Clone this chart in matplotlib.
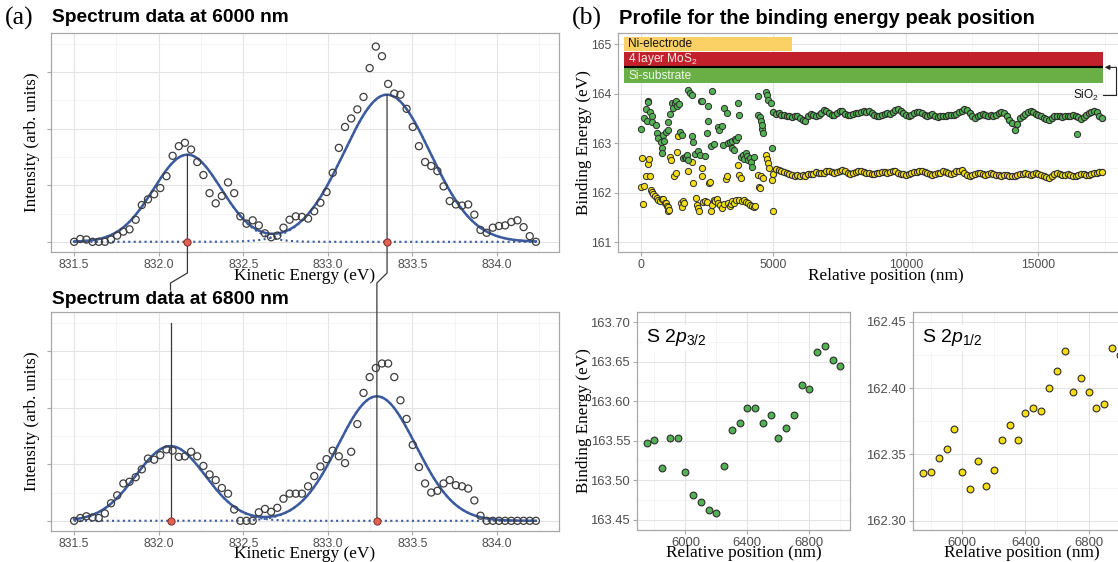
import numpy as np
import matplotlib
matplotlib.use('Agg')
import matplotlib.pyplot as plt
from matplotlib.lines import Line2D
from matplotlib.ticker import MultipleLocator, FixedLocator

plt.rcParams['font.family'] = ['Liberation Sans', 'DejaVu Sans']
plt.rcParams['mathtext.fontset'] = 'custom'
plt.rcParams['mathtext.rm'] = 'Liberation Sans'
plt.rcParams['mathtext.it'] = 'Liberation Sans:italic'

# ---------------- data: panel (a) ----------------
energy_first = 831.5
energy_last = 834.23
n_energy = 76
intensity_6000 = [0, 0.05, 0.04, 0, 0, 0, 0.04, 0.11, 0.18, 0.22,
                  0.39, 0.65, 0.75, 0.84, 0.95, 1.16, 1.52, 1.69, 1.75, 1.63,
                  1.41, 1.18, 0.86, 0.68, 0.81, 1.05, 0.86, 0.45, 0.32, 0.38,
                  0.29, 0.15, 0.08, 0.11, 0.25, 0.39, 0.45,
                  0.44, 0.41, 0.54, 0.69, 0.88, 1.22, 1.66, 2.03, 2.18, 2.34,
                  2.56, 3.07, 3.45, 3.28, 2.79, 2.62, 2.60, 2.35, 2.03, 1.69,
                  1.41, 1.34, 1.25, 0.98, 0.72, 0.66, 0.64, 0.66, 0.48, 0.21,
                  0.16, 0.25, 0.28, 0.29, 0.35, 0.38, 0.26, 0.10, 0]
intensity_6800 = [0, 0.05, 0.08, 0.06, 0.05, 0.13, 0.31, 0.45, 0.66, 0.69,
                  0.77, 0.91, 1.10, 1.08, 1.16, 1.26, 1.24, 1.13, 1.14, 1.22,
                  1.14, 0.97, 0.82, 0.72, 0.58, 0.48, 0.20, 0, 0, 0,
                  0.15, 0.21, 0.16, 0.23, 0.39, 0.48, 0.48,
                  0.48, 0.61, 0.79, 0.96, 1.09, 1.24, 1.14, 1.02, 1.22, 1.71,
                  2.26, 2.54, 2.70, 2.78, 2.78, 2.54, 2.13, 1.80, 1.34, 0.95,
                  0.66, 0.50, 0.53, 0.66, 0.72, 0.63, 0.61, 0.57, 0.36, 0.09,
                  0, 0, 0, 0, 0, 0, 0, 0, 0]
# Gaussian fit parameters (centre, height, sigma)
fit_centers_6000 = [832.17, 833.35]
fit_heights_6000 = [1.54, 2.60]
fit_sigmas_6000 = [0.20, 0.255]
fit_centers_6800 = [832.07, 833.29]
fit_heights_6800 = [1.32, 2.20]
fit_sigmas_6800 = [0.205, 0.23]
energy_ticks = [831.5, 832.0, 832.5, 833.0, 833.5, 834.0]

# ---------------- data: panel (b) ----------------
green_scatter_x = [0, 126, 190, 215, 250, 280, 340, 400, 420, 554,
                   590, 654, 754, 780, 805, 843, 880, 931, 1006, 1031,
                   1107, 1157, 1195, 1283, 1308, 1346, 1434, 1472, 1535, 1598,
                   1650, 1700, 1720, 1761, 1780, 1850, 1912, 1930, 1975, 2038,
                   2163, 2226, 2264, 2300, 2415, 2490, 2516, 2541, 2642, 2667,
                   2766, 2894, 2943, 3044, 3107, 3145, 3233, 3271, 3358, 3422,
                   3450, 3522, 3550, 3600, 3648, 3660, 3698, 3774, 3862, 3900,
                   3950, 4000, 4050, 4100, 4150, 4200, 4250, 4403, 4426, 4490,
                   4528, 4553, 4578, 4616, 4705, 4742, 4805, 4906, 4931, 16440]
green_scatter_y = [163.29, 163.51, 163.69, 163.46, 163.86, 163.84, 163.64, 163.56, 163.42, 163.37,
                   163.21, 163.10, 163.03, 162.90, 162.80, 163.17, 163.05, 163.23, 163.42, 163.27,
                   163.59, 163.81, 163.71, 163.82, 163.85, 163.75, 163.79, 163.23, 163.17, 162.70,
                   162.72, 162.70, 162.76, 164.08, 162.67, 164.02, 163.97, 163.15, 163.03, 162.78,
                   162.84, 162.76, 163.85, 163.86, 162.74, 163.20, 163.44, 163.75, 162.95, 164.06,
                   162.99, 163.33, 163.27, 163.35, 162.97, 163.71, 163.61, 163.01, 163.03, 162.90,
                   163.04, 162.87, 163.08, 163.06, 163.81, 163.12, 163.57, 162.72, 162.76, 162.69,
                   162.81, 162.75, 162.66, 162.70, 162.62, 162.52, 162.73, 163.57, 163.96, 163.53,
                   163.44, 163.28, 163.37, 163.20, 164.04, 163.98, 163.87, 163.81, 162.90, 163.18]
yellow_scatter_x = [0, 50, 60, 126, 176, 252, 302, 340, 377, 420,
                    465, 530, 590, 650, 717, 780, 843, 900, 931, 970,
                    1006, 1031, 1060, 1094, 1132, 1258, 1308, 1371, 1409, 1520,
                    1560, 1600, 1635, 1761, 1912, 1975, 2063, 2100, 2138, 2200,
                    2290, 2314, 2350, 2400, 2480, 2566, 2600, 2642, 2692, 2740,
                    2800, 2855, 2918, 2980, 3069, 3120, 3195, 3245, 3300, 3360,
                    3400, 3450, 3520, 3580, 3648, 3698, 3700, 3774, 3800, 3870,
                    3950, 4030, 4100, 4180, 4260, 4300, 4403, 4453, 4480, 4528,
                    4600, 4717, 4742, 4805, 4843, 4950, 4969]
yellow_scatter_y = [162.12, 162.70, 161.77, 162.14, 162.33, 162.58, 162.68, 162.34, 162.06, 162.02,
                    161.98, 161.93, 161.89, 161.86, 161.84, 161.88, 161.87, 161.80, 161.79, 161.74,
                    161.72, 161.63, 161.65, 162.72, 162.66, 162.33, 162.39, 162.83, 163.15, 161.80,
                    161.72, 161.84, 161.79, 162.43, 162.63, 162.19, 161.89, 161.75, 161.69, 161.62,
                    162.49, 162.33, 161.82, 161.84, 161.82, 162.19, 162.21, 161.63, 161.75, 161.86,
                    161.84, 161.87, 161.79, 161.76, 161.69, 161.78, 162.28, 162.33, 161.80, 161.74,
                    161.78, 161.83, 161.80, 161.86, 162.56, 162.36, 161.85, 162.29, 161.84, 161.85,
                    161.81, 161.79, 161.76, 161.74, 161.72, 161.73, 162.36, 162.11, 162.09, 162.33,
                    162.30, 162.76, 162.68, 162.60, 162.49, 162.26, 161.62]
# uniform scan (100 nm steps) from 5000 nm to 17400 nm
scan_first = 5000
scan_step = 100
green_scan = [163.63, 163.60, 163.62, 163.58, 163.57, 163.55, 163.56, 163.54, 163.55, 163.55,
              163.51, 163.47, 163.46, 163.56, 163.59, 163.57, 163.55, 163.58, 163.62, 163.67,
              163.65, 163.62, 163.58, 163.57, 163.62, 163.66, 163.65, 163.60, 163.57, 163.58,
              163.60, 163.62, 163.61, 163.63, 163.65, 163.64, 163.65, 163.61, 163.57, 163.55,
              163.56, 163.58, 163.60, 163.62, 163.60, 163.63, 163.67, 163.69, 163.66, 163.61,
              163.58, 163.56, 163.58, 163.61, 163.63, 163.63, 163.61, 163.58, 163.56, 163.57,
              163.60, 163.56, 163.54, 163.55, 163.56, 163.55, 163.57, 163.58, 163.57, 163.60,
              163.63, 163.66, 163.70, 163.68, 163.62, 163.56, 163.52, 163.55, 163.58, 163.59,
              163.57, 163.56, 163.57, 163.56, 163.58, 163.62, 163.64, 163.62, 163.55, 163.47,
              163.40, 163.27, 163.38, 163.51, 163.56, 163.60, 163.64, 163.66, 163.64, 163.60,
              163.58, 163.56, 163.52, 163.49, 163.47, 163.51, 163.55, 163.56, 163.55, 163.54,
              163.55, 163.56, 163.56, 163.57, 163.55, 163.53, 163.50, 163.54, 163.57, 163.62,
              163.64, 163.66, 163.63, 163.56, 163.52]
yellow_scan = [162.38, 162.47, 162.45, 162.44, 162.42, 162.40, 162.38, 162.35, 162.34, 162.35,
               162.34, 162.35, 162.34, 162.37, 162.38, 162.38, 162.41, 162.40, 162.40, 162.39,
               162.43, 162.43, 162.41, 162.40, 162.42, 162.44, 162.45, 162.43, 162.40, 162.38,
               162.39, 162.41, 162.43, 162.44, 162.42, 162.40, 162.39, 162.38, 162.37, 162.39,
               162.40, 162.42, 162.41, 162.39, 162.42, 162.44, 162.43, 162.40, 162.38, 162.37,
               162.36, 162.38, 162.40, 162.41, 162.42, 162.44, 162.43, 162.41, 162.39, 162.37,
               162.36, 162.37, 162.39, 162.40, 162.43, 162.42, 162.39, 162.37, 162.40, 162.43,
               162.44, 162.45, 162.40, 162.36, 162.34, 162.36, 162.38, 162.39, 162.40, 162.38,
               162.36, 162.37, 162.39, 162.37, 162.35, 162.35, 162.34, 162.35, 162.36, 162.34,
               162.33, 162.34, 162.36, 162.37, 162.38, 162.39, 162.37, 162.36, 162.38, 162.40,
               162.38, 162.36, 162.34, 162.32, 162.30, 162.33, 162.37, 162.39, 162.37, 162.36,
               162.35, 162.37, 162.36, 162.34, 162.33, 162.35, 162.37, 162.38, 162.36, 162.35,
               162.37, 162.39, 162.40, 162.41, 162.41]
layer_names = ['Ni-electrode', '4 layer MoS$_2$', 'Si-substrate']
layer_colors = ['#fbd166', '#c2212b', '#6aaf45']
layer_text_colors = ['#111111', '#f6e9e9', '#f2f7ee']
layer_start = -640
layer_end = [5700, 17450, 17450]
layer_bottom = [164.87, 164.55, 164.21]
layer_top = [165.14, 164.85, 164.52]
sio2_level = 164.535

# ---------------- data: zoomed panels ----------------
zoom_x = [5750, 5800, 5850, 5900, 5950, 6000, 6050, 6100, 6150, 6200,
          6250, 6300, 6350, 6400, 6450, 6500, 6550, 6600, 6650, 6700,
          6750, 6800, 6850, 6900, 6950, 7000]
s2p32 = [163.547, 163.551, 163.515, 163.554, 163.554, 163.511, 163.481, 163.472, 163.462, 163.459,
         163.518, 163.563, 163.573, 163.591, 163.591, 163.572, 163.582, 163.554, 163.566, 163.582,
         163.621, 163.615, 163.662, 163.670, 163.652, 163.645]
s2p12 = [162.336, 162.337, 162.347, 162.354, 162.369, 162.337, 162.324, 162.345, 162.326, 162.338,
         162.361, 162.372, 162.361, 162.381, 162.385, 162.383, 162.400, 162.413, 162.428, 162.397,
         162.408, 162.397, 162.385, 162.388, 162.430, 162.425]

# ---------------- figure ----------------
W, H = 1118, 562
fig = plt.figure(figsize=(W / 100, H / 100), dpi=100)


def box(l, t, r, b):
    return [l / W, 1 - b / H, (r - l) / W, (b - t) / H]


GRID = '#e4e4e4'
BORDER = '#a8a8a8'
TICKC = '#4d4d4d'
SERIF = ['Liberation Serif', 'DejaVu Serif']


def style(ax, labelsize=8.8):
    ax.set_facecolor('white')
    for s in ax.spines.values():
        s.set_color(BORDER)
        s.set_linewidth(0.9)
    ax.grid(which='major', color=GRID, lw=0.8)
    ax.grid(which='minor', color='#f0f0f0', lw=0.5)
    ax.set_axisbelow(True)
    ax.tick_params(which='major', length=3, width=0.8, color=BORDER,
                   labelcolor=TICKC, labelsize=labelsize, pad=2)
    ax.tick_params(which='minor', length=0)


def set_xlabel(ax, text, dist_px, height_px):
    ax.set_xlabel(text, family=SERIF, fontsize=12.4, va='center')
    ax.xaxis.set_label_coords(0.5, -dist_px / height_px)


def set_ylabel(ax, text, dist_px, width_px):
    ax.set_ylabel(text, family=SERIF, fontsize=12.3, va='center')
    ax.yaxis.set_label_coords(-dist_px / width_px, 0.5)


def gauss(x, c, h, s):
    return h * np.exp(-(x - c) ** 2 / (2 * s ** 2))


energy = np.linspace(energy_first, energy_last, n_energy)
efine = np.linspace(energy_first, energy_last, 500)

axTL = fig.add_axes(box(51, 33, 559, 252))
axBL = fig.add_axes(box(51, 312, 559, 531))
LINEC = '#3b5b9e'

fits = []
for ax, inten, cs, hs, ss, xd in [(axTL, intensity_6000, fit_centers_6000, fit_heights_6000, fit_sigmas_6000, 23.5),
                                  (axBL, intensity_6800, fit_centers_6800, fit_heights_6800, fit_sigmas_6800, 22.5)]:
    style(ax)
    comps = [gauss(efine, c, h, s) for c, h, s in zip(cs, hs, ss)]
    for comp in comps:
        ax.plot(efine, comp, ls=(0, (1, 1.6)), color=LINEC, lw=1.5, zorder=2)
    total = np.sum(comps, axis=0)
    ax.plot(efine, total, color=LINEC, lw=1.8, zorder=2.5)
    ax.scatter(energy, inten, s=26, facecolors='none', edgecolors='#3d3d3d',
               linewidths=0.9, zorder=3)
    ax.set_xlim(831.3635, 834.3665)
    ax.set_ylim(-0.18, 3.69)
    ax.xaxis.set_major_locator(FixedLocator(energy_ticks))
    ax.set_xticklabels([f'{t:.1f}' for t in energy_ticks])
    ax.xaxis.set_minor_locator(MultipleLocator(0.25))
    ax.yaxis.set_major_locator(MultipleLocator(1))
    ax.yaxis.set_minor_locator(MultipleLocator(0.5))
    ax.set_yticklabels([])
    set_ylabel(ax, 'Intensity (arb. units)', 19, 508)
    set_xlabel(ax, 'Kinetic Energy (eV)', xd, 219)
    fits.append((cs, hs, ss))

# in-panel line for left peak of lower spectrum
cB0 = fit_centers_6800[0]
axBL.plot([cB0, cB0], [0, 3.49], color='#3a3a3a', lw=0.9, zorder=4)


def to_fig(ax, x, y):
    return fig.transFigure.inverted().transform(ax.transData.transform((x, y)))


def fit_value(params, x):
    cs, hs, ss = params
    return sum(gauss(x, c, h, s) for c, h, s in zip(cs, hs, ss))


for i, (cT, cB) in enumerate(zip(fit_centers_6000, fit_centers_6800)):
    pt = to_fig(axTL, cT, fit_value(fits[0], cT))
    pb0 = to_fig(axBL, cB, 0)
    y_end = 1 - 290 / H if i == 0 else pb0[1]
    xs = [pt[0], pt[0], pb0[0], pb0[0]]
    ys = [pt[1], 1 - 273 / H, 1 - 283 / H, y_end]
    fig.add_artist(Line2D(xs, ys, transform=fig.transFigure, color='#3a3a3a', lw=0.9, zorder=3))
    for ax, c in [(axTL, cT), (axBL, cB)]:
        p = to_fig(ax, c, 0)
        fig.add_artist(Line2D([p[0]], [p[1]], transform=fig.transFigure, marker='o', ms=5.2,
                              mfc='#e2614f', mec='#7a2f2f', mew=0.7, ls='none', zorder=4))

fig.text(5 / W, 1 - 18 / H, '(a)', family=SERIF, fontsize=18.5, va='center', ha='left')
fig.text(52 / W, 1 - 18 / H, 'Spectrum data at 6000 nm', fontsize=13.8, weight='bold', va='center', ha='left')
fig.text(52 / W, 1 - 299 / H, 'Spectrum data at 6800 nm', fontsize=13.8, weight='bold', va='center', ha='left')
fig.text(572 / W, 1 - 18 / H, '(b)', family=SERIF, fontsize=18.5, va='center', ha='left')
fig.text(619 / W, 1 - 18 / H, 'Profile for the binding energy peak position', fontsize=14.5,
         weight='bold', va='center', ha='left')

# ---------------- panel (b) ----------------
axB = fig.add_axes(box(618, 33, 1154, 252))
style(axB)
GREEN = '#52b152'
YELLOW = '#f4de12'
EDGE = '#2e2e2e'
scan_x = scan_first + scan_step * np.arange(len(green_scan))
axB.scatter(yellow_scatter_x, yellow_scatter_y, s=20, c=YELLOW, edgecolors=EDGE, linewidths=0.7, zorder=3)
axB.scatter(green_scatter_x, green_scatter_y, s=20, c=GREEN, edgecolors=EDGE, linewidths=0.7, zorder=3)
axB.scatter(scan_x, yellow_scan, s=20, c=YELLOW, edgecolors=EDGE, linewidths=0.8, zorder=3)
axB.scatter(scan_x, green_scan, s=20, c=GREEN, edgecolors=EDGE, linewidths=0.8, zorder=3)

for name, col, tc, xe, yb, yt in zip(layer_names, layer_colors, layer_text_colors,
                                     layer_end, layer_bottom, layer_top):
    axB.barh(yb, xe - layer_start, left=layer_start, height=yt - yb, align='edge',
             color=col, zorder=4)
    axB.text(layer_start + 150, (yb + yt) / 2, name, color=tc, fontsize=8.6,
             va='center', ha='left', zorder=5)
axB.hlines(sio2_level, layer_start, layer_end[1], color='black', lw=1.5, zorder=5)
# SiO2 annotation
axB.text(17300, 163.97, 'SiO$_2$', fontsize=8.6, ha='right', va='center', color='#111111')
axB.plot([17420, 17925, 17925], [163.97, 163.97, sio2_level], color='#222222', lw=0.8,
         clip_on=False, zorder=5)
axB.annotate('', xy=(17500, sio2_level), xytext=(17925, sio2_level),
             arrowprops=dict(arrowstyle='-|>', color='#222222', lw=0.8,
                             mutation_scale=7, shrinkA=0, shrinkB=0),
             annotation_clip=False, zorder=5)

axB.set_xlim(-868, 19360)
axB.set_ylim(160.80, 165.23)
axB.xaxis.set_major_locator(FixedLocator([0, 5000, 10000, 15000]))
axB.xaxis.set_minor_locator(MultipleLocator(2500))
axB.yaxis.set_major_locator(MultipleLocator(1))
axB.yaxis.set_minor_locator(MultipleLocator(0.5))
set_ylabel(axB, 'Binding Energy (eV)', 34, 536)
set_xlabel(axB, 'Relative position (nm)', 23.5, 219)

# ---------------- zoomed panels ----------------
axS1 = fig.add_axes(box(637, 312, 850, 530))
axS2 = fig.add_axes(box(913, 312, 1130, 530))
for ax, vals, col, lab, ylim in [(axS1, s2p32, GREEN, r'S 2$\mathit{p}_{\mathit{3/2}}$', (163.437, 163.713)),
                                 (axS2, s2p12, YELLOW, r'S 2$\mathit{p}_{\mathit{1/2}}$', (162.293, 162.4575))]:
    style(ax, labelsize=9.4)
    ax.scatter(zoom_x, vals, s=24, c=col, edgecolors=EDGE, linewidths=0.8, zorder=3)
    ax.set_xlim(5687.5, 7062.5)
    ax.set_ylim(*ylim)
    ax.xaxis.set_major_locator(FixedLocator([6000, 6400, 6800]))
    ax.xaxis.set_minor_locator(FixedLocator([5800, 6200, 6600, 7000]))
    ax.yaxis.set_major_locator(MultipleLocator(0.05))
    ax.yaxis.set_minor_locator(MultipleLocator(0.025))
    ax.yaxis.set_major_formatter(matplotlib.ticker.FormatStrFormatter('%.2f'))
    set_xlabel(ax, 'Relative position (nm)', 23, 218)
    ax.text(0.04, 0.93, lab, transform=ax.transAxes, fontsize=14, va='top', ha='left',
            bbox=dict(facecolor='white', edgecolor='none', pad=2), zorder=5)
set_ylabel(axS1, 'Binding Energy (eV)', 53, 213)

fig.savefig('out.png', dpi=100)
